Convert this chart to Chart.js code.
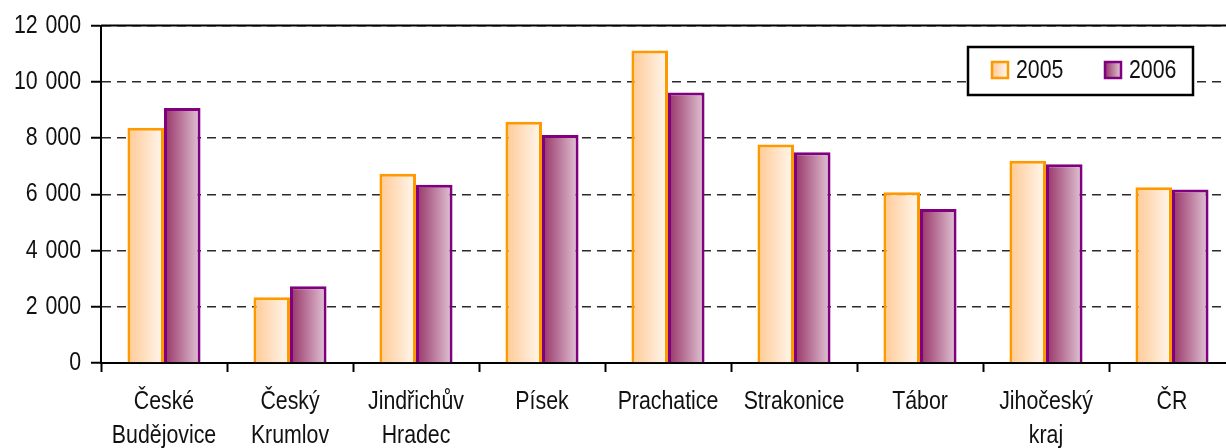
<!DOCTYPE html>
<html>
<head>
<meta charset="utf-8">
<script src="https://cdn.jsdelivr.net/npm/chart.js@4.4.1/dist/chart.umd.min.js"></script>
<style>
  html, body { margin: 0; padding: 0; background: #fff; overflow: hidden; width: 1226px; height: 448px; }
  canvas { position: absolute; left: 0; top: 0; }
</style>
</head>
<body>
<canvas id="c" width="1240" height="448"></canvas>
<script>
const categories = [['České', 'Budějovice'], ['Český', 'Krumlov'], ['Jindřichův', 'Hradec'], 'Písek', 'Prachatice', 'Strakonice', 'Tábor', ['Jihočeský', 'kraj'], 'ČR'];
const seriesNames = ['2005', '2006'];
const values2005 = [8370, 2340, 6730, 8580, 11110, 7770, 6070, 7190, 6250];
const values2006 = [9070, 2730, 6340, 8110, 9620, 7500, 5480, 7070, 6170];
const yTicks = [0, 2000, 4000, 6000, 8000, 10000, 12000];

const FONT = "'Liberation Sans', Arial, sans-serif";
const FONT_SIZE = 26;
const NARROW = 0.82; // emulate a narrow (condensed) face
const CAT_PCT = 0.58;
const gradStops = [
  ['#FFC994', '#FFF8F0'],
  ['#963266', '#E2C6D6']
];
const borderCols = ['#FF9900', '#800080'];

// condensed text rendering: horizontally scale every fillText call
const canvas = document.getElementById('c');
const c2d = canvas.getContext('2d');
const origFill = c2d.fillText;
c2d.fillText = function (t, x, y, mw) {
  this.save();
  this.translate(x, y);
  this.scale(NARROW, 1);
  origFill.call(this, t, 0, 0);
  this.restore();
};

function barGradient(ctx, dsIdx) {
  const chart = ctx.chart;
  const xs = chart.scales.x;
  if (!xs || ctx.dataIndex === undefined || !isFinite(xs.width)) return gradStops[dsIdx][0];
  const catW = xs.width / categories.length;
  const bw = catW * CAT_PCT / 2;
  const c = xs.getPixelForValue(ctx.dataIndex);
  const left = c - bw + dsIdx * bw;
  const g = chart.ctx.createLinearGradient(left, 0, left + bw, 0);
  g.addColorStop(0, gradStops[dsIdx][0]);
  g.addColorStop(1, gradStops[dsIdx][1]);
  return g;
}

const legendPlugin = {
  id: 'boxLegend',
  afterDatasetsDraw(chart) {
    const ctx = chart.ctx;
    const area = chart.chartArea;
    ctx.save();
    ctx.strokeStyle = '#000';
    ctx.lineWidth = 2;
    ctx.beginPath();
    ctx.moveTo(area.left, area.top);
    ctx.lineTo(area.right, area.top);
    ctx.stroke();
    const bx = 968, by = 47, bwid = 225, bh = 48;
    ctx.fillStyle = '#fff';
    ctx.fillRect(bx, by, bwid, bh);
    ctx.strokeStyle = '#000';
    ctx.lineWidth = 2.5;
    ctx.strokeRect(bx, by, bwid, bh);
    const items = [{ x: 992 }, { x: 1105 }];
    chart.data.datasets.forEach((ds, i) => {
      const sx = items[i].x, sy = 62, s = 16;
      const g = ctx.createLinearGradient(sx, 0, sx + s, 0);
      g.addColorStop(0, gradStops[i][0]);
      g.addColorStop(1, gradStops[i][1]);
      ctx.fillStyle = g;
      ctx.fillRect(sx, sy, s, s);
      ctx.strokeStyle = borderCols[i];
      ctx.lineWidth = 2.5;
      ctx.strokeRect(sx, sy, s, s);
      ctx.fillStyle = '#111';
      ctx.font = FONT_SIZE + 'px ' + FONT;
      ctx.textBaseline = 'middle';
      ctx.textAlign = 'left';
      ctx.fillText(ds.label, sx + 24, 71);
    });
    ctx.restore();
  }
};

new Chart(canvas, {
  type: 'bar',
  data: {
    labels: categories,
    datasets: [
      {
        label: seriesNames[0],
        data: values2005,
        backgroundColor: (ctx) => barGradient(ctx, 0),
        borderColor: borderCols[0],
        borderWidth: 3,
        borderSkipped: 'bottom',
        categoryPercentage: CAT_PCT,
        barPercentage: 1
      },
      {
        label: seriesNames[1],
        data: values2006,
        backgroundColor: (ctx) => barGradient(ctx, 1),
        borderColor: borderCols[1],
        borderWidth: 3,
        borderSkipped: 'bottom',
        categoryPercentage: CAT_PCT,
        barPercentage: 1
      }
    ]
  },
  options: {
    responsive: false,
    animation: false,
    events: [],
    layout: { padding: { top: 23, right: 5, left: 0, bottom: 0 } },
    plugins: { legend: { display: false }, tooltip: { enabled: false } },
    scales: {
      x: {
        afterFit: (s) => { s.height = 85; },
        grid: {
          offset: true,
          drawOnChartArea: false,
          drawTicks: true,
          tickLength: 9,
          tickColor: '#000',
          tickWidth: 2
        },
        border: { display: true, color: '#000', width: 2 },
        ticks: {
          color: '#111',
          padding: 13,
          maxRotation: 0,
          autoSkip: false,
          font: { family: FONT, size: FONT_SIZE, lineHeight: 1.31 }
        }
      },
      y: {
        min: 0,
        max: 12000,
        afterFit: (s) => { s.width = 101; },
        afterBuildTicks: (s) => { s.ticks = yTicks.map(v => ({ value: v })); },
        grid: {
          color: '#2a2a2a',
          lineWidth: 1.5,
          drawTicks: true,
          tickLength: 10,
          tickColor: '#000',
          tickWidth: 2
        },
        border: { display: true, color: '#000', width: 2, dash: [9, 6] },
        ticks: {
          color: '#111',
          padding: 10,
          font: { family: FONT, size: FONT_SIZE },
          callback: (v) => String(v).replace(/\B(?=(\d{3})+(?!\d))/g, ' \u200a')
        }
      }
    }
  },
  plugins: [legendPlugin]
});
</script>
</body>
</html>
